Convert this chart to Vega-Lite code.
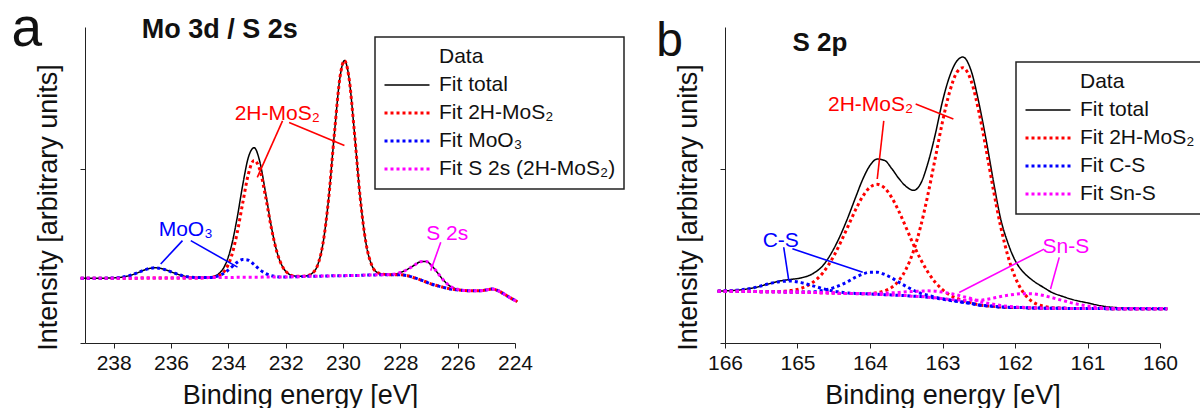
{
  "$schema": "https://vega.github.io/schema/vega-lite/v6.json",
  "background": "white",
  "padding": {"left": 11, "top": 1, "right": 0, "bottom": 0},
  "spacing": 210,
  "bounds": "flush",
  "config": {
    "font": "Liberation Sans",
    "view": {"stroke": null},
    "legend": {"strokeWidth": 1.5},
    "axis": {"grid": false, "domainColor": "#222", "tickColor": "#222", "labelColor": "#111", "titleColor": "#111", "titleFontWeight": "normal"}
  },
  "resolve": {
    "scale": {"x": "independent", "y": "independent", "color": "independent", "strokeDash": "independent", "strokeWidth": "independent"},
    "legend": {"color": "independent", "strokeDash": "independent", "strokeWidth": "independent"}
  },
  "datasets": {
    "compA": [
      {"comp": "total", "series": "Fit total"},
      {"comp": "mos2", "series": "Fit 2H-MoS₂"},
      {"comp": "moo3", "series": "Fit MoO₃"},
      {"comp": "s2s", "series": "Fit S 2s (2H-MoS₂)"}
    ],
    "compB": [
      {"comp": "total", "series": "Fit total"},
      {"comp": "r1", "series": "Fit 2H-MoS₂"},
      {"comp": "r2", "series": "Fit 2H-MoS₂"},
      {"comp": "cs1", "series": "Fit C-S"},
      {"comp": "cs2", "series": "Fit C-S"},
      {"comp": "sns1", "series": "Fit Sn-S"},
      {"comp": "sns2", "series": "Fit Sn-S"}
    ],
    "a": [
      {"e": 239.15, "total": 0.205, "mos2": 0.205, "moo3": 0.205, "s2s": 0.205},
      {"e": 239.0, "total": 0.205, "mos2": 0.205, "moo3": 0.205, "s2s": 0.205},
      {"e": 238.5, "total": 0.205, "mos2": 0.205, "moo3": 0.205, "s2s": 0.205},
      {"e": 238.0, "total": 0.206, "mos2": 0.205, "moo3": 0.206, "s2s": 0.205},
      {"e": 237.5, "total": 0.212, "mos2": 0.205, "moo3": 0.212, "s2s": 0.205},
      {"e": 237.2, "total": 0.221, "mos2": 0.205, "moo3": 0.221, "s2s": 0.205},
      {"e": 236.9, "total": 0.232, "mos2": 0.206, "moo3": 0.232, "s2s": 0.206},
      {"e": 236.55, "total": 0.238, "mos2": 0.206, "moo3": 0.238, "s2s": 0.206},
      {"e": 236.2, "total": 0.232, "mos2": 0.206, "moo3": 0.232, "s2s": 0.206},
      {"e": 235.9, "total": 0.222, "mos2": 0.206, "moo3": 0.222, "s2s": 0.206},
      {"e": 235.6, "total": 0.213, "mos2": 0.206, "moo3": 0.213, "s2s": 0.206},
      {"e": 235.3, "total": 0.208, "mos2": 0.206, "moo3": 0.208, "s2s": 0.206},
      {"e": 235.0, "total": 0.207, "mos2": 0.206, "moo3": 0.207, "s2s": 0.206},
      {"e": 234.7, "total": 0.208, "mos2": 0.207, "moo3": 0.207, "s2s": 0.207},
      {"e": 234.5, "total": 0.211, "mos2": 0.209, "moo3": 0.209, "s2s": 0.207},
      {"e": 234.3, "total": 0.222, "mos2": 0.215, "moo3": 0.214, "s2s": 0.207},
      {"e": 234.1, "total": 0.249, "mos2": 0.232, "moo3": 0.224, "s2s": 0.207},
      {"e": 233.9, "total": 0.304, "mos2": 0.272, "moo3": 0.239, "s2s": 0.207},
      {"e": 233.7, "total": 0.392, "mos2": 0.345, "moo3": 0.255, "s2s": 0.208},
      {"e": 233.5, "total": 0.499, "mos2": 0.442, "moo3": 0.264, "s2s": 0.208},
      {"e": 233.3, "total": 0.588, "mos2": 0.535, "moo3": 0.262, "s2s": 0.208},
      {"e": 233.1, "total": 0.618, "mos2": 0.578, "moo3": 0.248, "s2s": 0.208},
      {"e": 232.9, "total": 0.573, "mos2": 0.548, "moo3": 0.232, "s2s": 0.208},
      {"e": 232.7, "total": 0.475, "mos2": 0.463, "moo3": 0.220, "s2s": 0.209},
      {"e": 232.5, "total": 0.368, "mos2": 0.364, "moo3": 0.213, "s2s": 0.209},
      {"e": 232.3, "total": 0.287, "mos2": 0.286, "moo3": 0.210, "s2s": 0.209},
      {"e": 232.1, "total": 0.240, "mos2": 0.240, "moo3": 0.209, "s2s": 0.209},
      {"e": 231.9, "total": 0.219, "mos2": 0.219, "moo3": 0.209, "s2s": 0.209},
      {"e": 231.7, "total": 0.212, "mos2": 0.212, "moo3": 0.210, "s2s": 0.210},
      {"e": 231.5, "total": 0.211, "mos2": 0.211, "moo3": 0.210, "s2s": 0.210},
      {"e": 231.3, "total": 0.212, "mos2": 0.212, "moo3": 0.211, "s2s": 0.211},
      {"e": 231.1, "total": 0.219, "mos2": 0.219, "moo3": 0.211, "s2s": 0.211},
      {"e": 230.9, "total": 0.243, "mos2": 0.243, "moo3": 0.211, "s2s": 0.211},
      {"e": 230.7, "total": 0.314, "mos2": 0.314, "moo3": 0.212, "s2s": 0.212},
      {"e": 230.5, "total": 0.458, "mos2": 0.458, "moo3": 0.212, "s2s": 0.212},
      {"e": 230.3, "total": 0.663, "mos2": 0.663, "moo3": 0.213, "s2s": 0.213},
      {"e": 230.1, "total": 0.844, "mos2": 0.844, "moo3": 0.213, "s2s": 0.213},
      {"e": 229.95, "total": 0.894, "mos2": 0.894, "moo3": 0.213, "s2s": 0.213},
      {"e": 229.8, "total": 0.845, "mos2": 0.845, "moo3": 0.214, "s2s": 0.214},
      {"e": 229.6, "total": 0.665, "mos2": 0.665, "moo3": 0.214, "s2s": 0.214},
      {"e": 229.4, "total": 0.460, "mos2": 0.460, "moo3": 0.214, "s2s": 0.214},
      {"e": 229.2, "total": 0.317, "mos2": 0.317, "moo3": 0.215, "s2s": 0.215},
      {"e": 229.0, "total": 0.247, "mos2": 0.247, "moo3": 0.215, "s2s": 0.215},
      {"e": 228.8, "total": 0.223, "mos2": 0.223, "moo3": 0.216, "s2s": 0.216},
      {"e": 228.6, "total": 0.218, "mos2": 0.218, "moo3": 0.216, "s2s": 0.216},
      {"e": 228.3, "total": 0.217, "mos2": 0.216, "moo3": 0.216, "s2s": 0.217},
      {"e": 228.0, "total": 0.223, "mos2": 0.216, "moo3": 0.216, "s2s": 0.223},
      {"e": 227.75, "total": 0.233, "mos2": 0.213, "moo3": 0.213, "s2s": 0.233},
      {"e": 227.5, "total": 0.247, "mos2": 0.206, "moo3": 0.206, "s2s": 0.247},
      {"e": 227.3, "total": 0.257, "mos2": 0.200, "moo3": 0.200, "s2s": 0.257},
      {"e": 227.1, "total": 0.258, "mos2": 0.193, "moo3": 0.193, "s2s": 0.258},
      {"e": 226.9, "total": 0.244, "mos2": 0.186, "moo3": 0.186, "s2s": 0.244},
      {"e": 226.7, "total": 0.222, "mos2": 0.181, "moo3": 0.181, "s2s": 0.222},
      {"e": 226.5, "total": 0.199, "mos2": 0.176, "moo3": 0.176, "s2s": 0.199},
      {"e": 226.25, "total": 0.179, "mos2": 0.171, "moo3": 0.171, "s2s": 0.179},
      {"e": 226.0, "total": 0.170, "mos2": 0.168, "moo3": 0.168, "s2s": 0.170},
      {"e": 225.75, "total": 0.166, "mos2": 0.166, "moo3": 0.166, "s2s": 0.166},
      {"e": 225.5, "total": 0.165, "mos2": 0.165, "moo3": 0.165, "s2s": 0.165},
      {"e": 225.25, "total": 0.165, "mos2": 0.165, "moo3": 0.165, "s2s": 0.165},
      {"e": 225.0, "total": 0.168, "mos2": 0.168, "moo3": 0.168, "s2s": 0.168},
      {"e": 224.8, "total": 0.171, "mos2": 0.171, "moo3": 0.171, "s2s": 0.171},
      {"e": 224.6, "total": 0.166, "mos2": 0.166, "moo3": 0.166, "s2s": 0.166},
      {"e": 224.4, "total": 0.156, "mos2": 0.156, "moo3": 0.156, "s2s": 0.156},
      {"e": 224.2, "total": 0.145, "mos2": 0.145, "moo3": 0.145, "s2s": 0.145},
      {"e": 223.92, "total": 0.131, "mos2": 0.131, "moo3": 0.131, "s2s": 0.131}
    ],
    "b": [
      {"e": 166.1, "total": 0.164, "r1": 0.164, "r2": 0.164, "cs1": 0.164, "cs2": 0.164, "sns1": 0.164, "sns2": 0.164},
      {"e": 166.0, "total": 0.165, "r1": 0.164, "r2": 0.164, "cs1": 0.164, "cs2": 0.165, "sns1": 0.164, "sns2": 0.164},
      {"e": 165.8, "total": 0.168, "r1": 0.164, "r2": 0.164, "cs1": 0.164, "cs2": 0.168, "sns1": 0.164, "sns2": 0.164},
      {"e": 165.6, "total": 0.175, "r1": 0.163, "r2": 0.163, "cs1": 0.163, "cs2": 0.175, "sns1": 0.163, "sns2": 0.163},
      {"e": 165.4, "total": 0.187, "r1": 0.163, "r2": 0.162, "cs1": 0.162, "cs2": 0.187, "sns1": 0.162, "sns2": 0.162},
      {"e": 165.25, "total": 0.196, "r1": 0.163, "r2": 0.162, "cs1": 0.162, "cs2": 0.194, "sns1": 0.162, "sns2": 0.162},
      {"e": 165.1, "total": 0.201, "r1": 0.166, "r2": 0.161, "cs1": 0.161, "cs2": 0.196, "sns1": 0.161, "sns2": 0.161},
      {"e": 164.95, "total": 0.206, "r1": 0.173, "r2": 0.161, "cs1": 0.161, "cs2": 0.191, "sns1": 0.161, "sns2": 0.161},
      {"e": 164.8, "total": 0.218, "r1": 0.190, "r2": 0.160, "cs1": 0.162, "cs2": 0.182, "sns1": 0.160, "sns2": 0.160},
      {"e": 164.65, "total": 0.245, "r1": 0.222, "r2": 0.159, "cs1": 0.166, "cs2": 0.172, "sns1": 0.159, "sns2": 0.159},
      {"e": 164.5, "total": 0.298, "r1": 0.275, "r2": 0.158, "cs1": 0.175, "cs2": 0.164, "sns1": 0.158, "sns2": 0.158},
      {"e": 164.4, "total": 0.345, "r1": 0.321, "r2": 0.157, "cs1": 0.184, "cs2": 0.161, "sns1": 0.157, "sns2": 0.157},
      {"e": 164.3, "total": 0.400, "r1": 0.371, "r2": 0.157, "cs1": 0.195, "cs2": 0.158, "sns1": 0.157, "sns2": 0.157},
      {"e": 164.2, "total": 0.460, "r1": 0.421, "r2": 0.157, "cs1": 0.208, "cs2": 0.157, "sns1": 0.156, "sns2": 0.157},
      {"e": 164.1, "total": 0.518, "r1": 0.464, "r2": 0.156, "cs1": 0.218, "cs2": 0.156, "sns1": 0.156, "sns2": 0.157},
      {"e": 164.0, "total": 0.562, "r1": 0.493, "r2": 0.157, "cs1": 0.224, "cs2": 0.155, "sns1": 0.155, "sns2": 0.157},
      {"e": 163.9, "total": 0.582, "r1": 0.502, "r2": 0.159, "cs1": 0.224, "cs2": 0.154, "sns1": 0.154, "sns2": 0.157},
      {"e": 163.8, "total": 0.578, "r1": 0.491, "r2": 0.165, "cs1": 0.217, "cs2": 0.153, "sns1": 0.153, "sns2": 0.158},
      {"e": 163.7, "total": 0.552, "r1": 0.460, "r2": 0.176, "cs1": 0.206, "cs2": 0.152, "sns1": 0.152, "sns2": 0.159},
      {"e": 163.6, "total": 0.520, "r1": 0.416, "r2": 0.198, "cs1": 0.192, "cs2": 0.151, "sns1": 0.151, "sns2": 0.160},
      {"e": 163.5, "total": 0.495, "r1": 0.364, "r2": 0.235, "cs1": 0.179, "cs2": 0.150, "sns1": 0.150, "sns2": 0.162},
      {"e": 163.4, "total": 0.483, "r1": 0.311, "r2": 0.291, "cs1": 0.167, "cs2": 0.148, "sns1": 0.148, "sns2": 0.163},
      {"e": 163.3, "total": 0.505, "r1": 0.264, "r2": 0.370, "cs1": 0.157, "cs2": 0.147, "sns1": 0.147, "sns2": 0.164},
      {"e": 163.2, "total": 0.570, "r1": 0.224, "r2": 0.471, "cs1": 0.151, "cs2": 0.145, "sns1": 0.145, "sns2": 0.165},
      {"e": 163.1, "total": 0.660, "r1": 0.192, "r2": 0.585, "cs1": 0.145, "cs2": 0.142, "sns1": 0.143, "sns2": 0.164},
      {"e": 163.0, "total": 0.765, "r1": 0.169, "r2": 0.700, "cs1": 0.140, "cs2": 0.139, "sns1": 0.141, "sns2": 0.161},
      {"e": 162.9, "total": 0.845, "r1": 0.152, "r2": 0.796, "cs1": 0.136, "cs2": 0.135, "sns1": 0.138, "sns2": 0.157},
      {"e": 162.8, "total": 0.893, "r1": 0.141, "r2": 0.857, "cs1": 0.132, "cs2": 0.132, "sns1": 0.136, "sns2": 0.152},
      {"e": 162.72, "total": 0.905, "r1": 0.134, "r2": 0.871, "cs1": 0.129, "cs2": 0.129, "sns1": 0.135, "sns2": 0.147},
      {"e": 162.6, "total": 0.858, "r1": 0.127, "r2": 0.826, "cs1": 0.125, "cs2": 0.125, "sns1": 0.136, "sns2": 0.140},
      {"e": 162.5, "total": 0.762, "r1": 0.121, "r2": 0.734, "cs1": 0.120, "cs2": 0.120, "sns1": 0.135, "sns2": 0.132},
      {"e": 162.4, "total": 0.645, "r1": 0.118, "r2": 0.615, "cs1": 0.118, "cs2": 0.118, "sns1": 0.138, "sns2": 0.127},
      {"e": 162.3, "total": 0.515, "r1": 0.116, "r2": 0.487, "cs1": 0.116, "cs2": 0.116, "sns1": 0.142, "sns2": 0.123},
      {"e": 162.2, "total": 0.395, "r1": 0.114, "r2": 0.371, "cs1": 0.114, "cs2": 0.114, "sns1": 0.147, "sns2": 0.119},
      {"e": 162.1, "total": 0.318, "r1": 0.113, "r2": 0.277, "cs1": 0.113, "cs2": 0.113, "sns1": 0.151, "sns2": 0.116},
      {"e": 162.0, "total": 0.262, "r1": 0.112, "r2": 0.209, "cs1": 0.112, "cs2": 0.112, "sns1": 0.154, "sns2": 0.114},
      {"e": 161.9, "total": 0.228, "r1": 0.112, "r2": 0.165, "cs1": 0.112, "cs2": 0.112, "sns1": 0.156, "sns2": 0.113},
      {"e": 161.8, "total": 0.206, "r1": 0.111, "r2": 0.138, "cs1": 0.111, "cs2": 0.111, "sns1": 0.156, "sns2": 0.112},
      {"e": 161.7, "total": 0.189, "r1": 0.111, "r2": 0.123, "cs1": 0.111, "cs2": 0.111, "sns1": 0.154, "sns2": 0.111},
      {"e": 161.6, "total": 0.175, "r1": 0.110, "r2": 0.116, "cs1": 0.110, "cs2": 0.110, "sns1": 0.150, "sns2": 0.110},
      {"e": 161.5, "total": 0.161, "r1": 0.110, "r2": 0.112, "cs1": 0.110, "cs2": 0.110, "sns1": 0.144, "sns2": 0.110},
      {"e": 161.35, "total": 0.148, "r1": 0.110, "r2": 0.110, "cs1": 0.110, "cs2": 0.110, "sns1": 0.135, "sns2": 0.110},
      {"e": 161.2, "total": 0.137, "r1": 0.109, "r2": 0.109, "cs1": 0.109, "cs2": 0.109, "sns1": 0.126, "sns2": 0.109},
      {"e": 161.0, "total": 0.127, "r1": 0.109, "r2": 0.109, "cs1": 0.109, "cs2": 0.109, "sns1": 0.117, "sns2": 0.109},
      {"e": 160.8, "total": 0.117, "r1": 0.109, "r2": 0.109, "cs1": 0.109, "cs2": 0.109, "sns1": 0.112, "sns2": 0.109},
      {"e": 160.6, "total": 0.112, "r1": 0.108, "r2": 0.108, "cs1": 0.108, "cs2": 0.108, "sns1": 0.109, "sns2": 0.108},
      {"e": 160.4, "total": 0.110, "r1": 0.108, "r2": 0.108, "cs1": 0.108, "cs2": 0.108, "sns1": 0.108, "sns2": 0.108},
      {"e": 160.2, "total": 0.109, "r1": 0.108, "r2": 0.108, "cs1": 0.108, "cs2": 0.108, "sns1": 0.108, "sns2": 0.108},
      {"e": 159.9, "total": 0.108, "r1": 0.108, "r2": 0.108, "cs1": 0.108, "cs2": 0.108, "sns1": 0.108, "sns2": 0.108}
    ]
  },
  "hconcat": [
    {
      "width": 430,
      "height": 316,
      "layer": [
        {
          "data": {"name": "a"},
          "transform": [
            {"fold": ["total", "mos2", "moo3", "s2s"], "as": ["comp", "v"]},
            {"lookup": "comp", "from": {"data": {"name": "compA"}, "key": "comp", "fields": ["series"]}}
          ],
          "mark": {"type": "line", "interpolate": "monotone"},
          "encoding": {
            "x": {
              "field": "e", "type": "quantitative",
              "scale": {"domain": [224, 239], "reverse": true, "nice": false, "zero": false},
              "axis": {
                "title": "Binding energy [eV]",
                "values": [224, 225, 226, 227, 228, 229, 230, 231, 232, 233, 234, 235, 236, 237, 238, 239],
                "format": "d",
                "labelExpr": "datum.value % 2 === 0 ? datum.label : ''",
                "encode": {"ticks": {"update": {"y2": {"signal": "datum.value % 2 === 0 ? 6 : 3"}}}},
                "tickSize": 5,
                "labelFontSize": 21,
                "labelPadding": 4,
                "labelFlush": false,
                "labelOverlap": false,
                "titleFontSize": 27,
                "titleY": 60,
                "titleBaseline": "alphabetic"
              }
            },
            "y": {
              "field": "v", "type": "quantitative",
              "scale": {"domain": [0, 1], "nice": false, "zero": false},
              "axis": {
                "title": "Intensity [arbitrary units]",
                "values": [0, 0.551],
                "labels": false,
                "tickSize": 5,
                "titleFontSize": 27,
                "titleX": -23,
                "titleY": 180
              }
            },
            "color": {
              "field": "series", "type": "nominal",
              "scale": {"domain": ["Data", "Fit total", "Fit 2H-MoS₂", "Fit MoO₃", "Fit S 2s (2H-MoS₂)"], "range": ["transparent", "#000000", "#ff0000", "#0000ff", "#ff00ff"]},
              "legend": {"orient": "none", "legendX": 290, "legendY": 10, "title": null, "symbolType": "stroke", "symbolSize": 2025, "clipHeight": 24, "labelFontSize": 21, "labelOffset": 8, "padding": 8, "rowPadding": 4, "strokeColor": "#222", "fillColor": "white", "labelLimit": 400, "labelColor": "#111"}
            },
            "strokeDash": {
              "field": "series", "type": "nominal",
              "scale": {"domain": ["Data", "Fit total", "Fit 2H-MoS₂", "Fit MoO₃", "Fit S 2s (2H-MoS₂)"], "range": [[1, 0], [1, 0], [3, 3], [3, 3], [3, 3]]},
              "legend": {"orient": "none", "legendX": 290, "legendY": 10, "title": null, "symbolType": "stroke", "symbolSize": 2025, "clipHeight": 24, "labelFontSize": 21, "labelOffset": 8, "padding": 8, "rowPadding": 4, "strokeColor": "#222", "fillColor": "white", "labelLimit": 400, "labelColor": "#111"}
            },
            "strokeWidth": {
              "field": "series", "type": "ordinal",
              "scale": {"type": "ordinal", "domain": ["Data", "Fit total", "Fit 2H-MoS₂", "Fit MoO₃", "Fit S 2s (2H-MoS₂)"], "range": [1.5, 1.5, 3, 3, 3]},
              "legend": {"orient": "none", "legendX": 290, "legendY": 10, "title": null, "symbolType": "stroke", "symbolSize": 2025, "clipHeight": 24, "labelFontSize": 21, "labelOffset": 8, "padding": 8, "rowPadding": 4, "strokeColor": "#222", "fillColor": "white", "labelLimit": 400, "labelColor": "#111"}
            },
            "detail": {"field": "comp", "type": "nominal"}
          }
        },
        {
          "data": {"values": [
            {"e1": 232.11, "v1": 0.703, "e2": 232.99, "v2": 0.524, "series": "Fit 2H-MoS₂"},
            {"e1": 231.88, "v1": 0.698, "e2": 229.95, "v2": 0.625, "series": "Fit 2H-MoS₂"},
            {"e1": 235.6, "v1": 0.324, "e2": 236.36, "v2": 0.25, "series": "Fit MoO₃"},
            {"e1": 235.31, "v1": 0.324, "e2": 233.68, "v2": 0.24, "series": "Fit MoO₃"},
            {"e1": 226.59, "v1": 0.319, "e2": 226.94, "v2": 0.229, "series": "Fit S 2s (2H-MoS₂)"}
          ]},
          "mark": {"type": "rule", "strokeWidth": 1.6},
          "encoding": {
            "x": {"field": "e1", "type": "quantitative"},
            "y": {"field": "v1", "type": "quantitative"},
            "x2": {"field": "e2"},
            "y2": {"field": "v2"},
            "color": {"field": "series", "type": "nominal", "legend": null}
          }
        },
        {
          "data": {"values": [
            {"t": "2H-MoS₂", "e": 233.78, "v": 0.707, "series": "Fit 2H-MoS₂"},
            {"t": "MoO₃", "e": 236.43, "v": 0.338, "series": "Fit MoO₃"},
            {"t": "S 2s", "e": 227.1, "v": 0.326, "series": "Fit S 2s (2H-MoS₂)"}
          ]},
          "mark": {"type": "text", "align": "left", "baseline": "alphabetic", "fontSize": 21},
          "encoding": {
            "x": {"field": "e", "type": "quantitative"},
            "y": {"field": "v", "type": "quantitative"},
            "text": {"field": "t"},
            "color": {"field": "series", "type": "nominal", "legend": null}
          }
        },
        {
          "data": {"values": [{"t": "Mo 3d / S 2s", "e": 237.02, "v": 0.965}]},
          "mark": {"type": "text", "align": "left", "baseline": "alphabetic", "fontSize": 27, "fontWeight": "bold", "color": "#111"},
          "encoding": {
            "x": {"field": "e", "type": "quantitative"},
            "y": {"field": "v", "type": "quantitative"},
            "text": {"field": "t"}
          }
        },
        {
          "data": {"values": [{"t": "a", "e": 241.56, "v": 0.94}]},
          "mark": {"type": "text", "align": "left", "baseline": "alphabetic", "fontSize": 55, "color": "#111"},
          "encoding": {
            "x": {"field": "e", "type": "quantitative"},
            "y": {"field": "v", "type": "quantitative"},
            "text": {"field": "t"}
          }
        }
      ]
    },
    {
      "width": 435,
      "height": 316,
      "layer": [
        {
          "data": {"name": "b"},
          "transform": [
            {"fold": ["total", "r1", "r2", "cs1", "cs2", "sns1", "sns2"], "as": ["comp", "v"]},
            {"lookup": "comp", "from": {"data": {"name": "compB"}, "key": "comp", "fields": ["series"]}}
          ],
          "mark": {"type": "line", "interpolate": "monotone"},
          "encoding": {
            "x": {
              "field": "e", "type": "quantitative",
              "scale": {"domain": [160, 166], "reverse": true, "nice": false, "zero": false},
              "axis": {
                "title": "Binding energy [eV]",
                "values": [160, 160.5, 161, 161.5, 162, 162.5, 163, 163.5, 164, 164.5, 165, 165.5, 166],
                "format": "d",
                "labelExpr": "datum.value % 1 === 0 ? datum.label : ''",
                "encode": {"ticks": {"update": {"y2": {"signal": "datum.value % 1 === 0 ? 6 : 3"}}}},
                "tickSize": 5,
                "labelFontSize": 21,
                "labelPadding": 4,
                "labelFlush": false,
                "labelOverlap": false,
                "titleFontSize": 27,
                "titleY": 60,
                "titleBaseline": "alphabetic"
              }
            },
            "y": {
              "field": "v", "type": "quantitative",
              "scale": {"domain": [0, 1], "nice": false, "zero": false},
              "axis": {
                "title": "Intensity [arbitrary units]",
                "values": [0, 0.551],
                "labels": false,
                "tickSize": 5,
                "titleFontSize": 27,
                "titleX": -23,
                "titleY": 180
              }
            },
            "color": {
              "field": "series", "type": "nominal",
              "scale": {"domain": ["Data", "Fit total", "Fit 2H-MoS₂", "Fit C-S", "Fit Sn-S"], "range": ["transparent", "#000000", "#ff0000", "#0000ff", "#ff00ff"]},
              "legend": {"orient": "none", "legendX": 291, "legendY": 35, "title": null, "symbolType": "stroke", "symbolSize": 2025, "clipHeight": 24, "labelFontSize": 21, "labelOffset": 8, "padding": 8, "rowPadding": 4, "strokeColor": "#222", "fillColor": "white", "labelLimit": 400, "labelColor": "#111"}
            },
            "strokeDash": {
              "field": "series", "type": "nominal",
              "scale": {"domain": ["Data", "Fit total", "Fit 2H-MoS₂", "Fit C-S", "Fit Sn-S"], "range": [[1, 0], [1, 0], [3, 3], [3, 3], [3, 3]]},
              "legend": {"orient": "none", "legendX": 291, "legendY": 35, "title": null, "symbolType": "stroke", "symbolSize": 2025, "clipHeight": 24, "labelFontSize": 21, "labelOffset": 8, "padding": 8, "rowPadding": 4, "strokeColor": "#222", "fillColor": "white", "labelLimit": 400, "labelColor": "#111"}
            },
            "strokeWidth": {
              "field": "series", "type": "ordinal",
              "scale": {"type": "ordinal", "domain": ["Data", "Fit total", "Fit 2H-MoS₂", "Fit C-S", "Fit Sn-S"], "range": [1.5, 1.5, 3, 3, 3]},
              "legend": {"orient": "none", "legendX": 291, "legendY": 35, "title": null, "symbolType": "stroke", "symbolSize": 2025, "clipHeight": 24, "labelFontSize": 21, "labelOffset": 8, "padding": 8, "rowPadding": 4, "strokeColor": "#222", "fillColor": "white", "labelLimit": 400, "labelColor": "#111"}
            },
            "detail": {"field": "comp", "type": "nominal"}
          }
        },
        {
          "data": {"values": [
            {"e1": 163.81, "v1": 0.703, "e2": 163.9, "v2": 0.519, "series": "Fit 2H-MoS₂"},
            {"e1": 163.37, "v1": 0.756, "e2": 162.85, "v2": 0.709, "series": "Fit 2H-MoS₂"},
            {"e1": 165.19, "v1": 0.303, "e2": 165.12, "v2": 0.197, "series": "Fit C-S"},
            {"e1": 165.07, "v1": 0.298, "e2": 164.1, "v2": 0.224, "series": "Fit C-S"},
            {"e1": 161.6, "v1": 0.297, "e2": 162.77, "v2": 0.16, "series": "Fit Sn-S"},
            {"e1": 161.39, "v1": 0.271, "e2": 161.51, "v2": 0.171, "series": "Fit Sn-S"}
          ]},
          "mark": {"type": "rule", "strokeWidth": 1.6},
          "encoding": {
            "x": {"field": "e1", "type": "quantitative"},
            "y": {"field": "v1", "type": "quantitative"},
            "x2": {"field": "e2"},
            "y2": {"field": "v2"},
            "color": {"field": "series", "type": "nominal", "legend": null}
          }
        },
        {
          "data": {"values": [
            {"t": "2H-MoS₂", "e": 164.58, "v": 0.733, "series": "Fit 2H-MoS₂"},
            {"t": "C-S", "e": 165.48, "v": 0.305, "series": "Fit C-S"},
            {"t": "Sn-S", "e": 161.62, "v": 0.285, "series": "Fit Sn-S"}
          ]},
          "mark": {"type": "text", "align": "left", "baseline": "alphabetic", "fontSize": 21},
          "encoding": {
            "x": {"field": "e", "type": "quantitative"},
            "y": {"field": "v", "type": "quantitative"},
            "text": {"field": "t"},
            "color": {"field": "series", "type": "nominal", "legend": null}
          }
        },
        {
          "data": {"values": [{"t": "S 2p", "e": 165.07, "v": 0.924}]},
          "mark": {"type": "text", "align": "left", "baseline": "alphabetic", "fontSize": 26, "fontWeight": "bold", "color": "#111"},
          "encoding": {
            "x": {"field": "e", "type": "quantitative"},
            "y": {"field": "v", "type": "quantitative"},
            "text": {"field": "t"}
          }
        },
        {
          "data": {"values": [{"t": "b", "e": 166.95, "v": 0.908}]},
          "mark": {"type": "text", "align": "left", "baseline": "alphabetic", "fontSize": 48, "color": "#111"},
          "encoding": {
            "x": {"field": "e", "type": "quantitative"},
            "y": {"field": "v", "type": "quantitative"},
            "text": {"field": "t"}
          }
        }
      ]
    }
  ]
}
